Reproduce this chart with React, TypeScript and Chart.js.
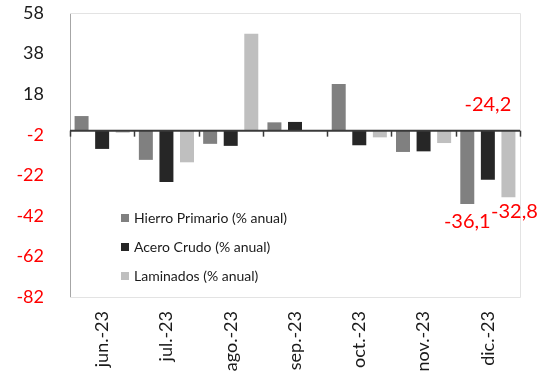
import { useEffect, useRef } from "react";
import { Chart, registerables } from "chart.js";

Chart.register(...registerables);

// Monthly steel production, year-over-year change (%)
const months = ["jun.-23", "jul.-23", "ago.-23", "sep.-23", "oct.-23", "nov.-23", "dic.-23"];
const hierroPrimario = [7.2, -14.4, -6.5, 4.1, 23.0, -10.5, -36.1];
const aceroCrudo = [-9.0, -25.3, -7.5, 4.3, -7.2, -10.2, -24.2];
const laminados = [-1.0, -15.6, 47.8, 0, -3.3, -6.1, -32.8];
const yTicks = [58, 38, 18, -2, -22, -42, -62, -82];
const seriesNames = ["Hierro Primario (% anual)", "Acero Crudo (% anual)", "Laminados (% anual)"];
const seriesColors = ["#808080", "#262626", "#bfbfbf"];
// Values annotated on the last month
const labelledIndex = 6;

const FONT = "Lato, 'Liberation Sans', sans-serif";

const fmt = (v: number) => v.toFixed(1).replace(".", ",");

const framePlugin = {
  id: "frame",
  beforeDatasetsDraw(chart: any) {
    const { ctx, chartArea: a } = chart;
    ctx.save();
    ctx.strokeStyle = "#e3e3e3";
    ctx.lineWidth = 1;
    ctx.beginPath();
    ctx.moveTo(a.left, a.top + 0.5);
    ctx.lineTo(a.right + 0.5, a.top + 0.5);
    ctx.lineTo(a.right + 0.5, a.bottom + 0.5);
    ctx.lineTo(a.left, a.bottom + 0.5);
    ctx.stroke();
    ctx.restore();
  },
  afterDatasetsDraw(chart: any) {
    const { ctx, chartArea: a, scales } = chart;
    const y0 = scales.y.getPixelForValue(0);
    const xs = scales.x;
    ctx.save();
    ctx.strokeStyle = "#3a3a3a";
    ctx.lineWidth = 2;
    ctx.beginPath();
    ctx.moveTo(a.left, y0);
    ctx.lineTo(a.right, y0);
    ctx.stroke();
    ctx.lineWidth = 1.5;
    const step = (a.right - a.left) / months.length;
    for (let i = 0; i <= months.length; i++) {
      const x = Math.round(xs.left + i * step) + 0.5;
      ctx.beginPath();
      ctx.moveTo(x, y0);
      ctx.lineTo(x, y0 + 6);
      ctx.stroke();
    }

    // value labels for the last month
    ctx.fillStyle = "#ff0000";
    ctx.font = `20px ${FONT}`;
    ctx.textAlign = "center";
    ctx.textBaseline = "middle";
    const offsets = [
      { dx: 0, dy: 18 },
      { dx: 0, dy: 0 },
      { dx: 6, dy: 14 },
    ];
    chart.data.datasets.forEach((ds: any, di: number) => {
      const el = chart.getDatasetMeta(di).data[labelledIndex];
      const v = ds.data[labelledIndex];
      if (!el) return;
      const o = offsets[di];
      let y: number;
      if (di === 1) y = y0 - 26;
      else y = el.y + o.dy;
      ctx.fillText(fmt(v), el.x + o.dx, y);
    });

    // legend inside the plot
    ctx.font = `14px ${FONT}`;
    ctx.textAlign = "left";
    ctx.textBaseline = "middle";
    const lx = a.left + 51;
    const ly = [218, 247, 276];
    chart.data.datasets.forEach((ds: any, di: number) => {
      ctx.fillStyle = ds.backgroundColor;
      ctx.fillRect(lx, ly[di] - 4, 8, 8);
      ctx.fillStyle = "#1a1a1a";
      ctx.fillText(ds.label, lx + 13, ly[di] + 0.5);
    });
    ctx.restore();
  },
};

export default function App() {
  const ref = useRef<HTMLCanvasElement | null>(null);

  useEffect(() => {
    document.body.style.margin = "0";
    const canvas = ref.current;
    if (!canvas) return;
    const seriesData = [hierroPrimario, aceroCrudo, laminados];
    const chart = new Chart(canvas, {
      type: "bar",
      data: {
        labels: months,
        datasets: seriesData.map((d, i) => ({
          label: seriesNames[i],
          data: d,
          backgroundColor: seriesColors[i],
          borderWidth: 0,
          categoryPercentage: 0.96,
          barPercentage: 0.68,
        })),
      },
      options: {
        responsive: false,
        animation: false,
        devicePixelRatio: 1,
        layout: { padding: { top: 13, right: 25, left: 0, bottom: 0 } },
        plugins: {
          legend: { display: false },
          tooltip: { enabled: false },
        },
        scales: {
          x: {
            grid: { display: false, drawTicks: false },
            border: { display: false },
            afterFit(scale: any) {
              scale.height = 81;
            },
            ticks: {
              autoSkip: false,
              minRotation: 90,
              maxRotation: 90,
              padding: 14,
              color: "#1a1a1a",
              font: { family: FONT, size: 18 },
            },
          },
          y: {
            min: -82,
            max: 58,
            grid: { display: false, drawTicks: false },
            border: { display: true, color: "#a6a6a6", width: 1 },
            afterFit(scale: any) {
              scale.width = 70;
              scale.paddingTop = 0;
              scale.paddingBottom = 0;
            },
            afterBuildTicks(scale: any) {
              scale.ticks = yTicks.map((v) => ({ value: v }));
            },
            ticks: {
              padding: 26,
              font: { family: FONT, size: 18 },
              color: (c: any) => (c.tick && c.tick.value < 0 ? "#ff0000" : "#1a1a1a"),
            },
          },
        },
      },
      plugins: [framePlugin],
    });
    return () => chart.destroy();
  }, []);

  return (
    <div style={{ width: 545, height: 378 }}>
      <canvas ref={ref} width={545} height={378} />
    </div>
  );
}
